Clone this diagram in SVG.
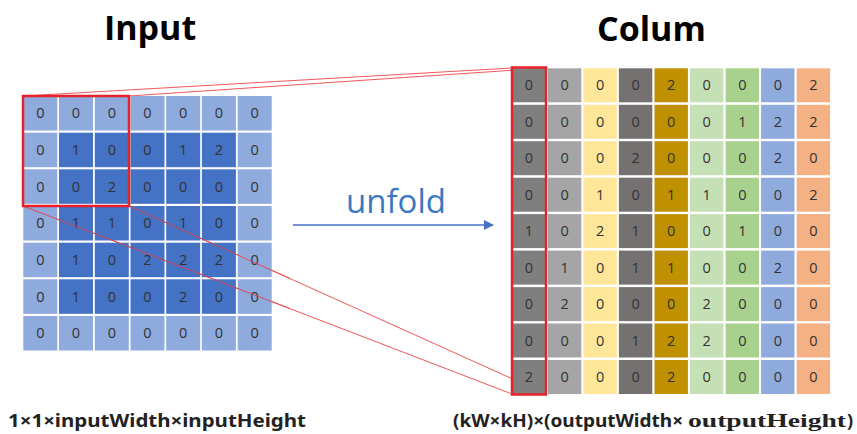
<svg xmlns="http://www.w3.org/2000/svg" width="857" height="434" viewBox="0 0 857 434">
  <style>
    .title { font-family: "Open Sans", "Liberation Sans", sans-serif; font-weight: 700; font-size: 34px; fill: #000; }
    .num { font-family: "Open Sans", "Liberation Sans", sans-serif; font-size: 14.5px; fill: #333; text-anchor: middle; }
    .lab { font-family: "Noto Sans", "Liberation Sans", sans-serif; font-weight: 700; font-size: 18px; fill: #222; }
    .labserif { font-family: "Liberation Serif", "DejaVu Serif", serif; font-weight: 700; font-size: 19px; fill: #222; }
    .verb { font-family: "Open Sans", "Liberation Sans", sans-serif; font-size: 33px; fill: #3b78c0; }
    .lt { fill: #8faadc; }
    .dk { fill: #4472c4; }
    .c1 { fill: #7f7f7f; }
    .c2 { fill: #a5a5a5; }
    .c3 { fill: #ffe699; }
    .c4 { fill: #767171; }
    .c5 { fill: #bf9000; }
    .c6 { fill: #c5e0b4; }
    .c7 { fill: #a9d18e; }
    .c8 { fill: #8faadc; }
    .c9 { fill: #f4b183; }
    .sel { fill: none; stroke: #e8202a; stroke-width: 2.5; }
    .ray { stroke: #ef3a40; stroke-width: 1; fill: none; opacity: 0.85; }
  </style>
  <defs>
    <marker id="tri" viewBox="0 0 10 10" refX="9" refY="5" markerWidth="10" markerHeight="10" markerUnits="userSpaceOnUse" orient="auto">
      <path d="M0,0 L10,5 L0,10 Z" fill="#4472c4"/>
    </marker>
  </defs>

  <rect width="857" height="434" fill="#fff"/>

  <!-- headings -->
  <text class="title" x="104" y="40">Input</text>
  <text class="title" x="597" y="41">Colum</text>

  <!-- projection rays from the 3x3 window to the first column (behind the column cells) -->
  <g id="connectors">
    <line class="ray" x1="23" y1="96" x2="512" y2="68"/>
    <line class="ray" x1="129" y1="96" x2="546" y2="68"/>
    <line class="ray" x1="23" y1="206" x2="512" y2="394"/>
    <line class="ray" x1="129" y1="206" x2="546" y2="394"/>
    <line x1="293" y1="225" x2="493" y2="225" stroke="#4472c4" stroke-width="1.3" marker-end="url(#tri)"/>
  </g>

  <!-- input feature map 7x7 (zero padded) -->
  <g id="input-grid">
    <!-- row 0 -->
    <rect class="lt" x="23.3" y="96" width="34" height="34.5"/><text class="num" x="40.3" y="118.3">0</text>
    <rect class="lt" x="59" y="96" width="34" height="34.5"/><text class="num" x="76" y="118.3">0</text>
    <rect class="lt" x="94.8" y="96" width="34" height="34.5"/><text class="num" x="111.8" y="118.3">0</text>
    <rect class="lt" x="130.5" y="96" width="34" height="34.5"/><text class="num" x="147.5" y="118.3">0</text>
    <rect class="lt" x="166.2" y="96" width="34" height="34.5"/><text class="num" x="183.2" y="118.3">0</text>
    <rect class="lt" x="201.9" y="96" width="34" height="34.5"/><text class="num" x="218.9" y="118.3">0</text>
    <rect class="lt" x="237.7" y="96" width="34" height="34.5"/><text class="num" x="254.7" y="118.3">0</text>
    <!-- row 1 -->
    <rect class="lt" x="23.3" y="132.7" width="34" height="34.5"/><text class="num" x="40.3" y="155">0</text>
    <rect class="dk" x="59" y="132.7" width="34" height="34.5"/><text class="num" x="76" y="155">1</text>
    <rect class="dk" x="94.8" y="132.7" width="34" height="34.5"/><text class="num" x="111.8" y="155">0</text>
    <rect class="dk" x="130.5" y="132.7" width="34" height="34.5"/><text class="num" x="147.5" y="155">0</text>
    <rect class="dk" x="166.2" y="132.7" width="34" height="34.5"/><text class="num" x="183.2" y="155">1</text>
    <rect class="dk" x="201.9" y="132.7" width="34" height="34.5"/><text class="num" x="218.9" y="155">2</text>
    <rect class="lt" x="237.7" y="132.7" width="34" height="34.5"/><text class="num" x="254.7" y="155">0</text>
    <!-- row 2 -->
    <rect class="lt" x="23.3" y="169.3" width="34" height="34.5"/><text class="num" x="40.3" y="191.6">0</text>
    <rect class="dk" x="59" y="169.3" width="34" height="34.5"/><text class="num" x="76" y="191.6">0</text>
    <rect class="dk" x="94.8" y="169.3" width="34" height="34.5"/><text class="num" x="111.8" y="191.6">2</text>
    <rect class="dk" x="130.5" y="169.3" width="34" height="34.5"/><text class="num" x="147.5" y="191.6">0</text>
    <rect class="dk" x="166.2" y="169.3" width="34" height="34.5"/><text class="num" x="183.2" y="191.6">0</text>
    <rect class="dk" x="201.9" y="169.3" width="34" height="34.5"/><text class="num" x="218.9" y="191.6">0</text>
    <rect class="lt" x="237.7" y="169.3" width="34" height="34.5"/><text class="num" x="254.7" y="191.6">0</text>
    <!-- row 3 -->
    <rect class="lt" x="23.3" y="206" width="34" height="34.5"/><text class="num" x="40.3" y="228.3">0</text>
    <rect class="dk" x="59" y="206" width="34" height="34.5"/><text class="num" x="76" y="228.3">1</text>
    <rect class="dk" x="94.8" y="206" width="34" height="34.5"/><text class="num" x="111.8" y="228.3">1</text>
    <rect class="dk" x="130.5" y="206" width="34" height="34.5"/><text class="num" x="147.5" y="228.3">0</text>
    <rect class="dk" x="166.2" y="206" width="34" height="34.5"/><text class="num" x="183.2" y="228.3">1</text>
    <rect class="dk" x="201.9" y="206" width="34" height="34.5"/><text class="num" x="218.9" y="228.3">0</text>
    <rect class="lt" x="237.7" y="206" width="34" height="34.5"/><text class="num" x="254.7" y="228.3">0</text>
    <!-- row 4 -->
    <rect class="lt" x="23.3" y="242.7" width="34" height="34.5"/><text class="num" x="40.3" y="265">0</text>
    <rect class="dk" x="59" y="242.7" width="34" height="34.5"/><text class="num" x="76" y="265">1</text>
    <rect class="dk" x="94.8" y="242.7" width="34" height="34.5"/><text class="num" x="111.8" y="265">0</text>
    <rect class="dk" x="130.5" y="242.7" width="34" height="34.5"/><text class="num" x="147.5" y="265">2</text>
    <rect class="dk" x="166.2" y="242.7" width="34" height="34.5"/><text class="num" x="183.2" y="265">2</text>
    <rect class="dk" x="201.9" y="242.7" width="34" height="34.5"/><text class="num" x="218.9" y="265">2</text>
    <rect class="lt" x="237.7" y="242.7" width="34" height="34.5"/><text class="num" x="254.7" y="265">0</text>
    <!-- row 5 -->
    <rect class="lt" x="23.3" y="279.3" width="34" height="34.5"/><text class="num" x="40.3" y="301.6">0</text>
    <rect class="dk" x="59" y="279.3" width="34" height="34.5"/><text class="num" x="76" y="301.6">1</text>
    <rect class="dk" x="94.8" y="279.3" width="34" height="34.5"/><text class="num" x="111.8" y="301.6">0</text>
    <rect class="dk" x="130.5" y="279.3" width="34" height="34.5"/><text class="num" x="147.5" y="301.6">0</text>
    <rect class="dk" x="166.2" y="279.3" width="34" height="34.5"/><text class="num" x="183.2" y="301.6">2</text>
    <rect class="dk" x="201.9" y="279.3" width="34" height="34.5"/><text class="num" x="218.9" y="301.6">0</text>
    <rect class="lt" x="237.7" y="279.3" width="34" height="34.5"/><text class="num" x="254.7" y="301.6">0</text>
    <!-- row 6 -->
    <rect class="lt" x="23.3" y="316" width="34" height="34.5"/><text class="num" x="40.3" y="338.3">0</text>
    <rect class="lt" x="59" y="316" width="34" height="34.5"/><text class="num" x="76" y="338.3">0</text>
    <rect class="lt" x="94.8" y="316" width="34" height="34.5"/><text class="num" x="111.8" y="338.3">0</text>
    <rect class="lt" x="130.5" y="316" width="34" height="34.5"/><text class="num" x="147.5" y="338.3">0</text>
    <rect class="lt" x="166.2" y="316" width="34" height="34.5"/><text class="num" x="183.2" y="338.3">0</text>
    <rect class="lt" x="201.9" y="316" width="34" height="34.5"/><text class="num" x="218.9" y="338.3">0</text>
    <rect class="lt" x="237.7" y="316" width="34" height="34.5"/><text class="num" x="254.7" y="338.3">0</text>
  </g>

  <!-- input-side rays are drawn over the input cells -->
  <g id="connectors-front">
    <line class="ray" x1="23" y1="206" x2="290" y2="308.6"/>
    <line class="ray" x1="129" y1="206" x2="290" y2="278.6"/>
  </g>

  <!-- 3x3 sliding window -->
  <g id="window">
    <rect class="sel" x="23" y="96" width="106" height="110"/>
  </g>

  <!-- unfold label -->
  <g id="unfold">
    <text class="verb" x="346" y="213">unfold</text>
  </g>

  <!-- unfolded column matrix 9x9 -->
  <g id="colum-grid">
    <!-- column 1 -->
    <g id="col-1">
      <rect class="c1" x="512.3" y="68.3" width="33.4" height="34"/><text class="num" x="529" y="90.3">0</text>
      <rect class="c1" x="512.3" y="104.8" width="33.4" height="34"/><text class="num" x="529" y="126.8">0</text>
      <rect class="c1" x="512.3" y="141.2" width="33.4" height="34"/><text class="num" x="529" y="163.2">0</text>
      <rect class="c1" x="512.3" y="177.7" width="33.4" height="34"/><text class="num" x="529" y="199.7">0</text>
      <rect class="c1" x="512.3" y="214.1" width="33.4" height="34"/><text class="num" x="529" y="236.1">1</text>
      <rect class="c1" x="512.3" y="250.6" width="33.4" height="34"/><text class="num" x="529" y="272.6">0</text>
      <rect class="c1" x="512.3" y="287.1" width="33.4" height="34"/><text class="num" x="529" y="309.1">0</text>
      <rect class="c1" x="512.3" y="323.5" width="33.4" height="34"/><text class="num" x="529" y="345.5">0</text>
      <rect class="c1" x="512.3" y="360" width="33.4" height="34"/><text class="num" x="529" y="382">2</text>
    </g>
    <!-- column 2 -->
    <g id="col-2">
      <rect class="c2" x="547.9" y="68.3" width="33.4" height="34"/><text class="num" x="564.6" y="90.3">0</text>
      <rect class="c2" x="547.9" y="104.8" width="33.4" height="34"/><text class="num" x="564.6" y="126.8">0</text>
      <rect class="c2" x="547.9" y="141.2" width="33.4" height="34"/><text class="num" x="564.6" y="163.2">0</text>
      <rect class="c2" x="547.9" y="177.7" width="33.4" height="34"/><text class="num" x="564.6" y="199.7">0</text>
      <rect class="c2" x="547.9" y="214.1" width="33.4" height="34"/><text class="num" x="564.6" y="236.1">0</text>
      <rect class="c2" x="547.9" y="250.6" width="33.4" height="34"/><text class="num" x="564.6" y="272.6">1</text>
      <rect class="c2" x="547.9" y="287.1" width="33.4" height="34"/><text class="num" x="564.6" y="309.1">2</text>
      <rect class="c2" x="547.9" y="323.5" width="33.4" height="34"/><text class="num" x="564.6" y="345.5">0</text>
      <rect class="c2" x="547.9" y="360" width="33.4" height="34"/><text class="num" x="564.6" y="382">0</text>
    </g>
    <!-- column 3 -->
    <g id="col-3">
      <rect class="c3" x="583.4" y="68.3" width="33.4" height="34"/><text class="num" x="600.1" y="90.3">0</text>
      <rect class="c3" x="583.4" y="104.8" width="33.4" height="34"/><text class="num" x="600.1" y="126.8">0</text>
      <rect class="c3" x="583.4" y="141.2" width="33.4" height="34"/><text class="num" x="600.1" y="163.2">0</text>
      <rect class="c3" x="583.4" y="177.7" width="33.4" height="34"/><text class="num" x="600.1" y="199.7">1</text>
      <rect class="c3" x="583.4" y="214.1" width="33.4" height="34"/><text class="num" x="600.1" y="236.1">2</text>
      <rect class="c3" x="583.4" y="250.6" width="33.4" height="34"/><text class="num" x="600.1" y="272.6">0</text>
      <rect class="c3" x="583.4" y="287.1" width="33.4" height="34"/><text class="num" x="600.1" y="309.1">0</text>
      <rect class="c3" x="583.4" y="323.5" width="33.4" height="34"/><text class="num" x="600.1" y="345.5">0</text>
      <rect class="c3" x="583.4" y="360" width="33.4" height="34"/><text class="num" x="600.1" y="382">0</text>
    </g>
    <!-- column 4 -->
    <g id="col-4">
      <rect class="c4" x="618.9" y="68.3" width="33.4" height="34"/><text class="num" x="635.6" y="90.3">0</text>
      <rect class="c4" x="618.9" y="104.8" width="33.4" height="34"/><text class="num" x="635.6" y="126.8">0</text>
      <rect class="c4" x="618.9" y="141.2" width="33.4" height="34"/><text class="num" x="635.6" y="163.2">2</text>
      <rect class="c4" x="618.9" y="177.7" width="33.4" height="34"/><text class="num" x="635.6" y="199.7">0</text>
      <rect class="c4" x="618.9" y="214.1" width="33.4" height="34"/><text class="num" x="635.6" y="236.1">1</text>
      <rect class="c4" x="618.9" y="250.6" width="33.4" height="34"/><text class="num" x="635.6" y="272.6">1</text>
      <rect class="c4" x="618.9" y="287.1" width="33.4" height="34"/><text class="num" x="635.6" y="309.1">0</text>
      <rect class="c4" x="618.9" y="323.5" width="33.4" height="34"/><text class="num" x="635.6" y="345.5">1</text>
      <rect class="c4" x="618.9" y="360" width="33.4" height="34"/><text class="num" x="635.6" y="382">0</text>
    </g>
    <!-- column 5 -->
    <g id="col-5">
      <rect class="c5" x="654.5" y="68.3" width="33.4" height="34"/><text class="num" x="671.2" y="90.3">2</text>
      <rect class="c5" x="654.5" y="104.8" width="33.4" height="34"/><text class="num" x="671.2" y="126.8">0</text>
      <rect class="c5" x="654.5" y="141.2" width="33.4" height="34"/><text class="num" x="671.2" y="163.2">0</text>
      <rect class="c5" x="654.5" y="177.7" width="33.4" height="34"/><text class="num" x="671.2" y="199.7">1</text>
      <rect class="c5" x="654.5" y="214.1" width="33.4" height="34"/><text class="num" x="671.2" y="236.1">0</text>
      <rect class="c5" x="654.5" y="250.6" width="33.4" height="34"/><text class="num" x="671.2" y="272.6">1</text>
      <rect class="c5" x="654.5" y="287.1" width="33.4" height="34"/><text class="num" x="671.2" y="309.1">0</text>
      <rect class="c5" x="654.5" y="323.5" width="33.4" height="34"/><text class="num" x="671.2" y="345.5">2</text>
      <rect class="c5" x="654.5" y="360" width="33.4" height="34"/><text class="num" x="671.2" y="382">2</text>
    </g>
    <!-- column 6 -->
    <g id="col-6">
      <rect class="c6" x="690" y="68.3" width="33.4" height="34"/><text class="num" x="706.7" y="90.3">0</text>
      <rect class="c6" x="690" y="104.8" width="33.4" height="34"/><text class="num" x="706.7" y="126.8">0</text>
      <rect class="c6" x="690" y="141.2" width="33.4" height="34"/><text class="num" x="706.7" y="163.2">0</text>
      <rect class="c6" x="690" y="177.7" width="33.4" height="34"/><text class="num" x="706.7" y="199.7">1</text>
      <rect class="c6" x="690" y="214.1" width="33.4" height="34"/><text class="num" x="706.7" y="236.1">0</text>
      <rect class="c6" x="690" y="250.6" width="33.4" height="34"/><text class="num" x="706.7" y="272.6">0</text>
      <rect class="c6" x="690" y="287.1" width="33.4" height="34"/><text class="num" x="706.7" y="309.1">2</text>
      <rect class="c6" x="690" y="323.5" width="33.4" height="34"/><text class="num" x="706.7" y="345.5">2</text>
      <rect class="c6" x="690" y="360" width="33.4" height="34"/><text class="num" x="706.7" y="382">0</text>
    </g>
    <!-- column 7 -->
    <g id="col-7">
      <rect class="c7" x="725.6" y="68.3" width="33.4" height="34"/><text class="num" x="742.3" y="90.3">0</text>
      <rect class="c7" x="725.6" y="104.8" width="33.4" height="34"/><text class="num" x="742.3" y="126.8">1</text>
      <rect class="c7" x="725.6" y="141.2" width="33.4" height="34"/><text class="num" x="742.3" y="163.2">0</text>
      <rect class="c7" x="725.6" y="177.7" width="33.4" height="34"/><text class="num" x="742.3" y="199.7">0</text>
      <rect class="c7" x="725.6" y="214.1" width="33.4" height="34"/><text class="num" x="742.3" y="236.1">1</text>
      <rect class="c7" x="725.6" y="250.6" width="33.4" height="34"/><text class="num" x="742.3" y="272.6">0</text>
      <rect class="c7" x="725.6" y="287.1" width="33.4" height="34"/><text class="num" x="742.3" y="309.1">0</text>
      <rect class="c7" x="725.6" y="323.5" width="33.4" height="34"/><text class="num" x="742.3" y="345.5">0</text>
      <rect class="c7" x="725.6" y="360" width="33.4" height="34"/><text class="num" x="742.3" y="382">0</text>
    </g>
    <!-- column 8 -->
    <g id="col-8">
      <rect class="c8" x="761.1" y="68.3" width="33.4" height="34"/><text class="num" x="777.8" y="90.3">0</text>
      <rect class="c8" x="761.1" y="104.8" width="33.4" height="34"/><text class="num" x="777.8" y="126.8">2</text>
      <rect class="c8" x="761.1" y="141.2" width="33.4" height="34"/><text class="num" x="777.8" y="163.2">2</text>
      <rect class="c8" x="761.1" y="177.7" width="33.4" height="34"/><text class="num" x="777.8" y="199.7">0</text>
      <rect class="c8" x="761.1" y="214.1" width="33.4" height="34"/><text class="num" x="777.8" y="236.1">0</text>
      <rect class="c8" x="761.1" y="250.6" width="33.4" height="34"/><text class="num" x="777.8" y="272.6">2</text>
      <rect class="c8" x="761.1" y="287.1" width="33.4" height="34"/><text class="num" x="777.8" y="309.1">0</text>
      <rect class="c8" x="761.1" y="323.5" width="33.4" height="34"/><text class="num" x="777.8" y="345.5">0</text>
      <rect class="c8" x="761.1" y="360" width="33.4" height="34"/><text class="num" x="777.8" y="382">0</text>
    </g>
    <!-- column 9 -->
    <g id="col-9">
      <rect class="c9" x="796.7" y="68.3" width="33.4" height="34"/><text class="num" x="813.4" y="90.3">2</text>
      <rect class="c9" x="796.7" y="104.8" width="33.4" height="34"/><text class="num" x="813.4" y="126.8">2</text>
      <rect class="c9" x="796.7" y="141.2" width="33.4" height="34"/><text class="num" x="813.4" y="163.2">0</text>
      <rect class="c9" x="796.7" y="177.7" width="33.4" height="34"/><text class="num" x="813.4" y="199.7">2</text>
      <rect class="c9" x="796.7" y="214.1" width="33.4" height="34"/><text class="num" x="813.4" y="236.1">0</text>
      <rect class="c9" x="796.7" y="250.6" width="33.4" height="34"/><text class="num" x="813.4" y="272.6">0</text>
      <rect class="c9" x="796.7" y="287.1" width="33.4" height="34"/><text class="num" x="813.4" y="309.1">0</text>
      <rect class="c9" x="796.7" y="323.5" width="33.4" height="34"/><text class="num" x="813.4" y="345.5">0</text>
      <rect class="c9" x="796.7" y="360" width="33.4" height="34"/><text class="num" x="813.4" y="382">0</text>
    </g>
    <!-- highlight of the first unfolded column -->
    <rect class="sel" x="512" y="67.5" width="34" height="327"/>
  </g>

  <!-- shape captions -->
  <g id="captions">
    <text class="lab" x="8" y="427" textLength="298" lengthAdjust="spacingAndGlyphs">1×1×inputWidth×inputHeight</text>
    <text class="lab" x="453" y="427" textLength="230" lengthAdjust="spacingAndGlyphs">(kW×kH)×(outputWidth×</text>
    <text class="labserif" x="688" y="427" textLength="158" lengthAdjust="spacingAndGlyphs">outputHeight</text>
    <text class="lab" x="847" y="427">)</text>
  </g>
</svg>
